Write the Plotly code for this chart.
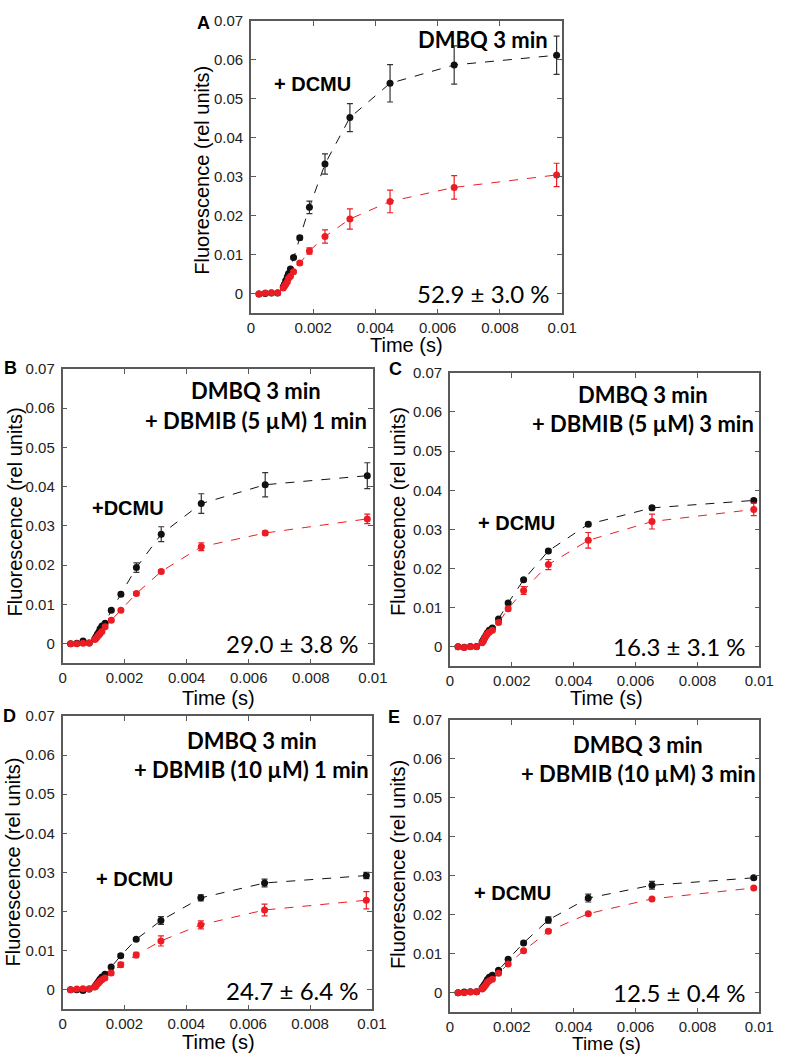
import plotly.graph_objects as go

W, H = 788, 1054

# ---------------- data ----------------
time_s = [0.00026, 0.00046, 0.00066, 0.00086, 0.00104, 0.00108, 0.00112, 0.00117, 0.00121,
          0.00127, 0.00137, 0.00157, 0.00188, 0.00238, 0.00318, 0.00447, 0.00653, 0.00982]

x_ticks = [0, 0.002, 0.004, 0.006, 0.008, 0.01]
x_tick_text = ["0", "0.002", "0.004", "0.006", "0.008", "0.01"]
y_ticks = [0, 0.01, 0.02, 0.03, 0.04, 0.05, 0.06, 0.07]
y_tick_text = ["0", "0.01", "0.02", "0.03", "0.04", "0.05", "0.06", "0.07"]

# Panel A
a_dcmu = [0, 0.0001, 0.0002, 0.0002, 0.0018, 0.0025, 0.0034, 0.0044, 0.0052, 0.0064, 0.0093, 0.0144,
          0.0222, 0.0333, 0.0452, 0.0540, 0.0587, 0.0612]
a_dcmu_err = [0.0002, 0.0002, 0.0002, 0.0002, 0.0002, 0.0002, 0.0002, 0.0002, 0.0002, 0.0003, 0.0003,
              0.0005, 0.0016, 0.0026, 0.0036, 0.0048, 0.0049, 0.0049]
a_red = [0, 0.0002, 0.0003, 0.0003, 0.0015, 0.0020, 0.0025, 0.0031, 0.0040, 0.0045, 0.0057, 0.0079,
         0.0110, 0.0147, 0.0192, 0.0237, 0.0273, 0.0305]
a_red_err = [0.0001, 0.0001, 0.0001, 0.0001, 0.0002, 0.0002, 0.0002, 0.0002, 0.0002, 0.0002, 0.0003,
             0.0004, 0.0008, 0.0017, 0.0026, 0.0029, 0.0030, 0.0030]

# Panel B
b_dcmu = [0, 0.0001, 0.0007, 0.0002, 0.0013, 0.0018, 0.0024, 0.0030, 0.0038, 0.0045, 0.0052, 0.0085,
          0.0126, 0.0194, 0.0279, 0.0357, 0.0405, 0.0428]
b_dcmu_err = [0.0002, 0.0002, 0.0002, 0.0002, 0.0002, 0.0002, 0.0002, 0.0002, 0.0002, 0.0003, 0.0003,
              0.0004, 0.0005, 0.0012, 0.0019, 0.0025, 0.0031, 0.0033]
b_red = [0, 0, 0.0001, 0.0002, 0.0011, 0.0014, 0.0018, 0.0022, 0.0026, 0.0031, 0.0043, 0.0060,
         0.0085, 0.0128, 0.0184, 0.0247, 0.0282, 0.0318]
b_red_err = [0.0001, 0.0001, 0.0001, 0.0001, 0.0002, 0.0002, 0.0002, 0.0002, 0.0002, 0.0003, 0.0003,
             0.0004, 0.0004, 0.0004, 0.0005, 0.0010, 0.0005, 0.0012]

# Panel C
c_dcmu = [0, -0.0001, 0.0001, 0.0001, 0.0013, 0.0018, 0.0024, 0.0030, 0.0036, 0.0042, 0.0048, 0.0071,
          0.0112, 0.0171, 0.0245, 0.0313, 0.0355, 0.0374]
c_dcmu_err = [0.0002, 0.0002, 0.0002, 0.0002, 0.0002, 0.0002, 0.0002, 0.0002, 0.0002, 0.0002, 0.0003,
              0.0003, 0.0003, 0.0003, 0.0004, 0.0005, 0.0005, 0.0005]
c_red = [0, -0.0002, 0, 0, 0.0010, 0.0015, 0.0022, 0.0028, 0.0033, 0.0037, 0.0042, 0.0062,
         0.0097, 0.0144, 0.0210, 0.0272, 0.0320, 0.0351]
c_red_err = [0.0001, 0.0001, 0.0001, 0.0001, 0.0002, 0.0002, 0.0002, 0.0002, 0.0002, 0.0003, 0.0003,
             0.0004, 0.0005, 0.0010, 0.0013, 0.0020, 0.0019, 0.0016]

# Panel D
d_dcmu = [0, 0, -0.0002, 0.0002, 0.0008, 0.0012, 0.0017, 0.0022, 0.0027, 0.0033, 0.0040, 0.0058,
          0.0087, 0.0129, 0.0177, 0.0235, 0.0273, 0.0292]
d_dcmu_err = [0.0002, 0.0002, 0.0002, 0.0002, 0.0002, 0.0002, 0.0002, 0.0002, 0.0002, 0.0003, 0.0003,
              0.0003, 0.0004, 0.0004, 0.0010, 0.0008, 0.0010, 0.0008]
d_red = [0, 0.0002, 0.0003, 0.0002, 0.0007, 0.0010, 0.0014, 0.0018, 0.0022, 0.0026, 0.0030, 0.0043,
         0.0064, 0.0089, 0.0125, 0.0166, 0.0204, 0.0229]
d_red_err = [0.0001, 0.0001, 0.0001, 0.0001, 0.0002, 0.0002, 0.0002, 0.0002, 0.0002, 0.0003, 0.0003,
             0.0005, 0.0006, 0.0007, 0.0013, 0.0010, 0.0015, 0.0022]

# Panel E
e_dcmu = [0, 0.0002, 0.0003, 0.0003, 0.0013, 0.0017, 0.0022, 0.0028, 0.0034, 0.0040, 0.0045, 0.0058,
          0.0086, 0.0128, 0.0187, 0.0243, 0.0276, 0.0295]
e_dcmu_err = [0.0002, 0.0002, 0.0002, 0.0002, 0.0002, 0.0002, 0.0002, 0.0002, 0.0002, 0.0002, 0.0003,
              0.0003, 0.0004, 0.0004, 0.0008, 0.0010, 0.0010, 0.0004]
e_red = [0, 0, 0.0002, 0.0003, 0.0010, 0.0013, 0.0017, 0.0022, 0.0027, 0.0031, 0.0035, 0.0050,
         0.0074, 0.0108, 0.0158, 0.0203, 0.0241, 0.0269]
e_red_err = [0.0001, 0.0001, 0.0001, 0.0001, 0.0002, 0.0002, 0.0002, 0.0002, 0.0002, 0.0002, 0.0002,
             0.0003, 0.0003, 0.0003, 0.0003, 0.0003, 0.0003, 0.0003]

panel_letters = ["A", "B", "C", "D", "E"]
cond_line1 = ["DMBQ 3 min", "DMBQ 3 min", "DMBQ 3 min", "DMBQ 3 min", "DMBQ 3 min"]
cond_line2 = [None, "+ DBMIB (5 µM) 1 min", "+ DBMIB (5 µM) 3 min",
              "+ DBMIB (10 µM) 1 min", "+ DBMIB (10 µM) 3 min"]
dcmu_labels = ["+ DCMU", "+DCMU", "+ DCMU", "+ DCMU", "+ DCMU"]
pct_labels = ["52.9 ± 3.0 %", "29.0 ± 3.8 %", "16.3 ± 3.1 %", "24.7 ± 6.4 %", "12.5 ± 0.4 %"]

dcmu_series = [(a_dcmu, a_dcmu_err), (b_dcmu, b_dcmu_err), (c_dcmu, c_dcmu_err),
               (d_dcmu, d_dcmu_err), (e_dcmu, e_dcmu_err)]
red_series = [(a_red, a_red_err), (b_red, b_red_err), (c_red, c_red_err),
              (d_red, d_red_err), (e_red, e_red_err)]

# ---------------- layout geometry (window pixels) ----------------
# plot boxes: (left, right, top, bottom)
boxes = [(253, 572, 12, 307), (60, 378, 363, 660), (457, 774, 367, 663),
         (60, 377, 713, 1009), (457, 774, 717, 1012)]
letter_pos = [(204, 14), (7, 362), (401, 363), (6, 713), (400, 714)]
ytitle_pos = [(202, 163), (11, 507), (403, 507), (9, 860), (403, 863)]
xtitle_pos = [(412, 339), (220, 695), (617, 695), (220, 1042), (617, 1043)]
xtitle_size = [20, 20, 20, 20, 19]
line1_pos = [(491, 31), (258, 385), (655, 389), (254, 738), (650, 742)]
line2_pos = [None, (258, 415), (655, 418), (254, 767), (650, 771)]
dcmu_pos = [(275, 76), (88, 503), (484, 518), (92, 877), (480, 892)]
pct_pos = [(562, 287), (366, 640), (762, 643), (366, 990), (762, 992)]


def px(x, y):
    return x / W, 1 - y / H


BLACK = "#111111"
RED = "#ec1c24"
AX = "#5a5a5a"
TICKFONT = dict(family="Liberation Sans, Arial, sans-serif", size=15, color="#222222")

fig = go.Figure()
layout = dict(width=W, height=H, margin=dict(l=0, r=0, t=0, b=0),
              paper_bgcolor="white", plot_bgcolor="white", showlegend=False)
annotations = []


def add(text, pos, font, xanchor="center", angle=0):
    x, y = px(*pos)
    annotations.append(dict(text=text, x=x, y=y, xref="paper", yref="paper", showarrow=False,
                            xanchor=xanchor, yanchor="middle", font=font, textangle=angle))


for i in range(5):
    n = "" if i == 0 else str(i + 1)
    xa, ya = "x" + n, "y" + n
    l, r, t, b = boxes[i]
    x0, y1 = px(l, t)
    x1, y0 = px(r, b)
    layout["xaxis" + n] = dict(domain=[x0, x1], anchor=ya, range=[0, 0.01],
                               tickvals=x_ticks, ticktext=x_tick_text, ticks="inside", ticklen=5,
                               tickwidth=1.2, tickcolor=AX, showline=True, linecolor=AX, linewidth=1.5,
                               mirror="ticks", showgrid=False, zeroline=False, tickfont=TICKFONT)
    layout["yaxis" + n] = dict(domain=[y0, y1], anchor=xa, range=[-0.005, 0.07],
                               tickvals=y_ticks, ticktext=y_tick_text, ticks="inside", ticklen=5,
                               tickwidth=1.2, tickcolor=AX, showline=True, linecolor=AX, linewidth=1.5,
                               mirror="ticks", showgrid=False, zeroline=False, tickfont=TICKFONT,
                               ticklabelstandoff=3)
    yv, ye = dcmu_series[i]
    fig.add_trace(go.Scatter(x=time_s, y=yv, xaxis=xa, yaxis=ya, mode="lines+markers",
                             line=dict(color=BLACK, width=1, dash="dash"),
                             marker=dict(color=BLACK, size=7),
                             error_y=dict(type="data", array=ye, visible=True, color="#333333",
                                          thickness=1.2, width=3)))
    yv, ye = red_series[i]
    fig.add_trace(go.Scatter(x=time_s, y=yv, xaxis=xa, yaxis=ya, mode="lines+markers",
                             line=dict(color=RED, width=1, dash="dash"),
                             marker=dict(color=RED, size=7),
                             error_y=dict(type="data", array=ye, visible=True, color=RED,
                                          thickness=1.2, width=3)))

    add(panel_letters[i], letter_pos[i],
        dict(family="Liberation Sans, Arial", size=18, color="black", weight="bold"))
    add("Fluorescence (rel units)", ytitle_pos[i],
        dict(family="Liberation Sans, Arial", size=20, color="black"), angle=-90)
    add("Time (s)", xtitle_pos[i],
        dict(family="Liberation Sans, Arial", size=xtitle_size[i], color="black"))
    add(cond_line1[i], line1_pos[i],
        dict(family="Lato, Open Sans", size=22, color="black", weight="bold"))
    if cond_line2[i]:
        add(cond_line2[i], line2_pos[i],
            dict(family="Lato, Open Sans", size=22, color="black", weight="bold"))
    add(dcmu_labels[i], dcmu_pos[i],
        dict(family="Liberation Sans, Arial", size=20, color="black", weight="bold"), xanchor="left")
    add(pct_labels[i], pct_pos[i], dict(family="Lato, Open Sans", size=24, color="black"),
        xanchor="right")

layout["annotations"] = annotations
fig.update_layout(**layout)
fig.write_html("out.html", config={"displayModeBar": False},
               post_script="document.body.style.margin='0px';")
